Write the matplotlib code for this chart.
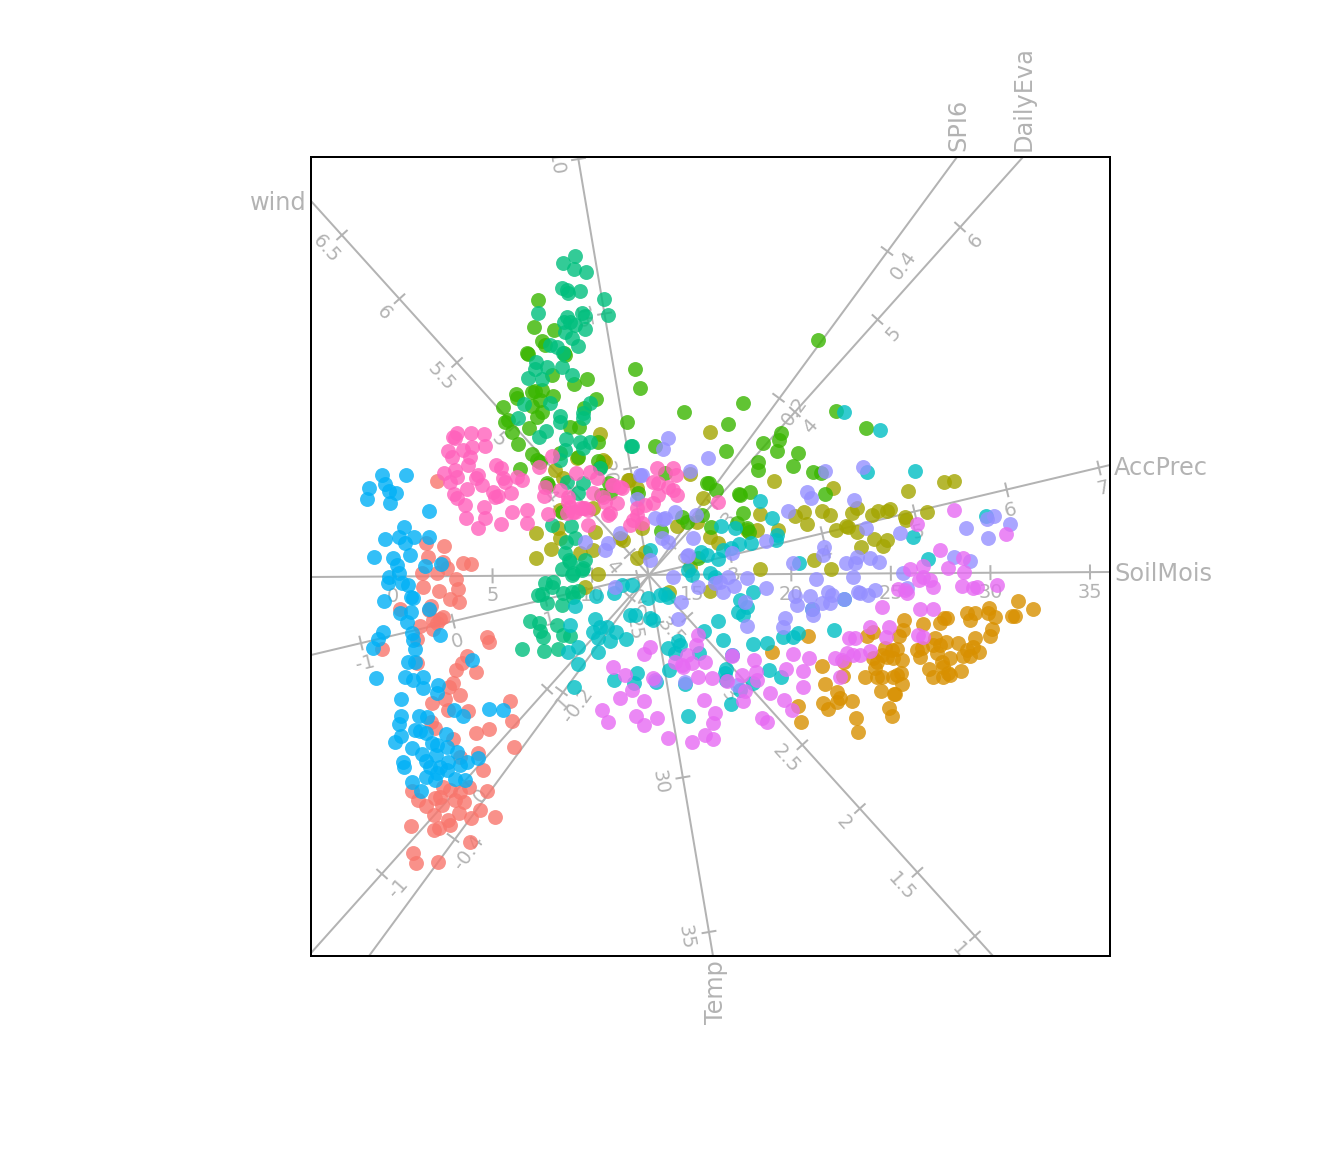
import numpy as np
import matplotlib
matplotlib.use('Agg')
import matplotlib.pyplot as plt

# biplot scores (plot units, y runs downward)
red_pts = [(437,481),(426,543),(444,546),(463,563),(471,564),(428,557),(443,562),(422,573),(437,573),(447,568),(456,579),
           (423,587),(439,591),(458,589),(450,599),(459,602),(400,609),(431,606),(429,610),(443,617),(420,626),(433,620),
           (437,623),(433,629),(440,619),(487,637),(489,642),(382,649),(417,639),(467,656),(462,663),(456,670),(476,672),
           (453,683),(449,687),(417,663),(460,695),(445,699),(432,703),(510,701),(468,711),(448,710),(512,721),(489,729),
           (476,733),(514,747),(435,728),(453,739),(431,722),(478,753),(483,770),(487,791),(469,787),(480,810),(495,817),
           (471,818),(459,813),(411,826),(434,830),(439,828),(448,820),(450,825),(434,815),(426,806),(418,800),(412,791),
           (435,798),(443,787),(442,805),(455,800),(464,802),(460,792),(450,790),(440,797),(470,842),(413,853),(416,863),
           (438,862),(460,757)]
orange_pts = [(1018,601),(1033,609),(1012,616),(1015,616),(989,608),(995,617),(988,613),(975,613),(967,613),(970,620),
              (992,629),(990,636),(975,638),(958,643),(979,652),(973,647),(967,650),(963,656),(970,656),(944,618),(947,618),
              (940,623),(923,624),(904,620),(903,630),(899,636),(873,632),(867,636),(935,638),(946,642),(940,645),(933,645),
              (922,648),(917,650),(920,657),(937,653),(950,658),(942,662),(929,669),(943,667),(961,671),(948,673),(933,677),
              (943,677),(950,675),(897,649),(892,650),(885,648),(902,660),(893,658),(882,655),(873,658),(877,662),(887,657),
              (875,668),(901,673),(897,675),(893,677),(877,677),(882,677),(865,677),(843,676),(902,684),(881,691),(894,694),
              (895,694),(889,708),(892,716),(822,666),(825,684),(837,692),(840,698),(837,702),(852,701),(823,703),(828,709),
              (856,718),(858,732),(798,706),(801,722),(808,636),(772,652),(844,662)]
olive_pts = [(710,432),(774,481),(690,474),(833,488),(908,491),(944,482),(954,481),(703,498),(677,526),(760,514),(804,512),
             (795,516),(807,524),(822,511),(830,515),(857,508),(852,513),(872,515),(878,511),(887,511),(890,509),(905,517),
             (906,520),(927,512),(836,530),(846,526),(857,532),(848,527),(874,539),(887,540),(883,546),(861,547),(757,530),
             (778,530),(747,530),(710,537),(718,543),(697,522),(814,560),(831,569),(760,569),(690,567),(669,592),(710,591),
             (629,480),(637,488),(642,528),(637,558),(593,550),(598,574),(585,587),(551,549),(536,533),(536,558),(558,528),
             (560,538),(580,553),(595,532),(623,540),(620,538),(555,470),(577,458),(605,462),(563,478),(560,510),(593,508),
             (600,434),(603,460),(628,480),(645,552)]
green_pts = [(538,300),(534,327),(554,330),(542,341),(545,345),(527,353),(528,354),(564,353),(565,355),(552,375),(574,384),
             (587,379),(635,369),(640,388),(516,394),(517,398),(532,392),(535,391),(542,390),(553,396),(540,400),(532,406),
             (542,412),(537,417),(503,407),(508,420),(505,422),(512,432),(529,428),(518,444),(584,408),(596,399),(570,427),
             (579,427),(627,422),(598,442),(655,446),(578,457),(532,454),(537,460),(540,462),(520,469),(598,461),(600,467),
             (548,485),(609,483),(610,493),(562,512),(638,493),(560,453),(818,340),(743,403),(684,412),(728,424),(726,451),
             (781,433),(779,440),(763,443),(777,451),(798,453),(793,466),(758,462),(758,470),(813,472),(821,473),(825,494),
             (836,411),(866,428),(707,483),(709,483),(716,490),(739,494),(740,495),(750,492),(743,513),(737,523),(711,527),
             (747,528),(749,532),(661,531),(682,517),(687,522),(702,515),(698,558),(665,473),(601,495),(547,483)]
teal_pts = [(575,256),(563,263),(574,269),(586,272),(562,288),(567,290),(568,293),(580,291),(604,299),(608,315),(538,313),
            (567,317),(582,313),(585,316),(564,322),(570,322),(585,329),(575,325),(565,332),(572,338),(578,346),(550,345),
            (557,347),(563,353),(536,362),(547,367),(535,369),(528,378),(542,379),(562,367),(572,375),(524,404),(550,403),
            (590,403),(583,413),(583,418),(518,418),(560,416),(560,422),(546,431),(539,437),(566,439),(580,442),(590,442),
            (583,448),(632,446),(565,450),(560,460),(600,468),(567,482),(583,483),(578,493),(552,525),(571,526),(566,542),
            (575,538),(585,560),(570,562),(562,569),(573,573),(582,570),(565,553),(569,560),(583,568),(572,575),(553,582),
            (545,583),(563,593),(578,591),(572,592),(538,595),(552,587),(547,603),(562,605),(573,597),(530,621),(539,623),
            (540,631),(543,637),(522,649),(544,651),(558,649),(557,625),(563,635),(570,636),(542,594),(631,446)]
cyan_pts = [(844,412),(880,430),(867,472),(915,471),(760,501),(772,518),(721,526),(735,528),(986,516),(913,537),(928,559),
            (799,563),(777,535),(776,540),(751,543),(739,544),(731,548),(723,550),(718,559),(701,552),(707,555),(650,550),
            (688,570),(710,573),(715,577),(692,575),(665,594),(668,597),(648,598),(650,618),(653,620),(753,592),(740,600),
            (747,607),(738,612),(743,615),(718,621),(704,631),(812,609),(844,599),(834,630),(798,633),(793,637),(783,637),
            (723,640),(753,644),(767,643),(678,641),(680,645),(668,648),(675,653),(699,653),(732,655),(769,670),(781,677),
            (669,670),(726,669),(725,673),(685,684),(656,682),(726,680),(753,683),(740,690),(731,704),(688,716),(575,606),
            (570,625),(595,619),(600,627),(593,632),(607,627),(598,638),(610,641),(616,632),(626,639),(578,647),(568,652),
            (598,652),(578,664),(574,687),(630,615),(635,615),(596,596),(614,593),(632,585),(622,585),(637,673),(634,683),
            (614,680),(660,595)]
blue_pts = [(382,475),(406,475),(369,488),(385,484),(367,499),(390,503),(389,491),(396,493),(429,511),(404,527),(385,539),
            (414,537),(429,537),(399,537),(405,543),(410,555),(374,557),(393,558),(397,565),(425,566),(441,564),(389,577),
            (399,573),(388,583),(402,583),(408,585),(384,601),(411,597),(413,598),(411,612),(400,613),(429,609),(407,622),
            (412,633),(440,635),(413,640),(383,632),(378,639),(373,648),(415,649),(472,660),(408,662),(415,662),(376,678),
            (405,677),(413,680),(423,677),(423,688),(438,685),(437,693),(401,699),(454,710),(463,716),(489,709),(503,710),
            (401,716),(419,716),(427,717),(399,724),(401,736),(395,742),(415,730),(420,731),(426,733),(446,734),(432,743),
            (437,745),(447,747),(412,748),(422,754),(457,752),(426,761),(436,755),(403,762),(404,767),(430,767),(440,767),
            (447,770),(448,762),(460,765),(467,762),(478,758),(437,773),(426,777),(435,780),(455,779),(465,780),(412,782),
            (421,791)]
purple_pts = [(640,475),(637,499),(690,471),(708,458),(663,449),(668,438),(642,475),(675,512),(663,519),(655,518),(696,515),
              (662,538),(668,542),(693,538),(825,471),(863,467),(807,492),(811,498),(854,500),(788,511),(766,541),(732,553),
              (687,556),(650,560),(673,577),(866,528),(900,533),(966,528),(987,519),(994,516),(1010,524),(988,538),(824,547),
              (823,555),(793,563),(846,563),(855,563),(857,557),(870,558),(879,562),(954,557),(970,561),(816,579),(853,577),
              (903,573),(747,578),(728,577),(698,587),(720,582),(723,592),(734,586),(766,588),(681,602),(678,619),(747,626),
              (745,602),(795,596),(810,596),(797,605),(813,615),(812,609),(828,592),(832,595),(830,603),(822,603),(844,599),
              (858,592),(860,593),(868,595),(875,590),(785,618),(783,627),(732,655),(655,680),(685,682),(737,685),(907,588),
              (665,518),(620,533),(608,543),(605,550),(585,542),(615,587),(688,555),(715,583)]
magenta_pts = [(882,607),(920,609),(933,609),(962,586),(973,588),(977,587),(997,585),(933,587),(919,580),(923,577),(930,580),
               (917,524),(954,510),(940,550),(1006,534),(963,558),(948,568),(964,572),(910,569),(923,566),(898,589),(905,590),
               (907,593),(870,627),(889,627),(886,637),(918,635),(923,637),(849,638),(855,638),(870,651),(860,655),(853,655),
               (847,653),(842,660),(835,658),(793,654),(809,658),(754,660),(732,656),(786,669),(803,671),(840,677),(803,687),
               (770,693),(756,672),(757,680),(742,675),(727,681),(698,677),(712,678),(705,662),(683,667),(682,665),(675,662),
               (687,655),(692,663),(698,635),(696,645),(650,647),(644,654),(653,678),(784,700),(792,710),(743,701),(745,691),
               (704,700),(644,701),(715,713),(713,723),(705,735),(713,739),(692,742),(668,738),(762,718),(767,722),(657,718),
               (644,725),(613,667),(625,675),(632,690),(620,698),(602,710),(608,722),(636,716)]
pink_pts = [(453,437),(457,433),(471,433),(484,434),(448,451),(452,457),(463,450),(472,447),(485,446),(470,457),(468,465),
            (455,438),(496,465),(501,468),(444,473),(455,470),(457,477),(450,482),(478,475),(476,478),(482,485),(467,489),
            (503,478),(505,482),(517,477),(522,480),(511,493),(493,492),(498,496),(495,497),(454,494),(457,498),(465,505),
            (484,507),(512,512),(527,510),(466,518),(485,518),(478,528),(501,524),(527,523),(548,514),(539,467),(552,456),
            (545,487),(544,496),(560,490),(568,497),(570,507),(576,473),(590,472),(597,478),(593,493),(603,497),(613,485),
            (622,488),(610,513),(617,503),(583,508),(588,510),(575,512),(567,513),(588,525),(657,468),(673,468),(676,475),
            (653,482),(658,483),(673,490),(668,487),(677,495),(658,495),(653,503),(645,505),(637,508),(637,515),(630,525),
            (642,523),(633,520),(718,502),(620,487),(612,485),(605,502),(608,515),(585,508),(580,508),(573,512),(568,502)]

series_pts = [red_pts, orange_pts, olive_pts, green_pts, teal_pts, cyan_pts, blue_pts, purple_pts, magenta_pts, pink_pts]
series_colors = ['#F8766D', '#D89000', '#A3A500', '#39B600', '#00BF7D',
                 '#00BFC4', '#00B0F6', '#9590FF', '#E76BF3', '#FF62BC']

# variable axes: ends of the line, first and last tick, tick labels
axis_names = ['SoilMois', 'AccPrec', 'Temp', 'wind', 'SPI6', 'DailyEva']
axis_ends = [((311,577),(1110,572)), ((311,655),(1110,465)), ((578,157),(713,956)),
             ((311,201),(993,956)), ((369,956),(957,157)), ((311,953),(1023,157))]
axis_first_tick = [(393,576.5), (361,643), (578.5,159), (342,235), (453,838), (382,874)]
axis_last_tick = [(1090,572), (1099,468), (709,932), (975,936), (887,251), (960,227)]
axis_labels = [['0','5','10','15','20','25','30','35'],
               ['-1','0','1','2','3','4','5','6','7'],
               ['10','15','20','25','30','35'],
               ['6.5','6','5.5','5','4.5','4','3.5','3','2.5','2','1.5','1'],
               ['-0.4','-0.2','0','0.2','0.4'],
               ['-1','0','1','2','3','4','5','6']]
label_offsets = [(0,20), (4,20), (-23,5), (-16,14), (16,14), (16,14)]
label_rotation = [0.4, 13.4, -80.4, -47.9, 53.6, 48.2]
name_pos = [(1114,574,'left','center',0), (1114,468,'left','center',0), (716,960,'center','top',90),
            (307,203,'right','center',0), (958,151,'center','bottom',90), (1024,151,'center','bottom',90)]

axis_grey = '#B3B3B3'

fig = plt.figure(figsize=(14, 12), dpi=96)
ax = fig.add_axes([311/1344, 1 - 956/1152, 799/1344, 799/1152])
ax.set_xlim(311, 1110)
ax.set_ylim(956, 157)
ax.set_xticks([])
ax.set_yticks([])
for s in ax.spines.values():
    s.set_linewidth(1.5)
    s.set_color('black')

for i, name in enumerate(axis_names):
    (x0, y0), (x1, y1) = axis_ends[i]
    ax.plot([x0, x1], [y0, y1], color=axis_grey, lw=1.5, zorder=1)

    # short tick across the line
    length = np.hypot(x1 - x0, y1 - y0)
    nx, ny = -(y1 - y0) / length * 6.5, (x1 - x0) / length * 6.5
    labels = axis_labels[i]
    tx = np.linspace(axis_first_tick[i][0], axis_last_tick[i][0], len(labels))
    ty = np.linspace(axis_first_tick[i][1], axis_last_tick[i][1], len(labels))
    for j, lab in enumerate(labels):
        ax.plot([tx[j] - nx, tx[j] + nx], [ty[j] - ny, ty[j] + ny], color=axis_grey, lw=1.5, zorder=1)
        ax.text(tx[j] + label_offsets[i][0], ty[j] + label_offsets[i][1], lab, color=axis_grey,
                fontsize=14.5, rotation=label_rotation[i], rotation_mode='anchor',
                ha='center', va='center', zorder=1, clip_on=True)

    px, py, ha, va, rot = name_pos[i]
    ax.text(px, py, name, color=axis_grey, fontsize=18, ha=ha, va=va, rotation=rot, clip_on=False)

for pts, col in zip(series_pts, series_colors):
    xy = np.array(pts)
    ax.scatter(xy[:, 0], xy[:, 1], s=125, color=col, alpha=0.8, linewidths=0, zorder=2)

fig.savefig('out.png', dpi=96)
